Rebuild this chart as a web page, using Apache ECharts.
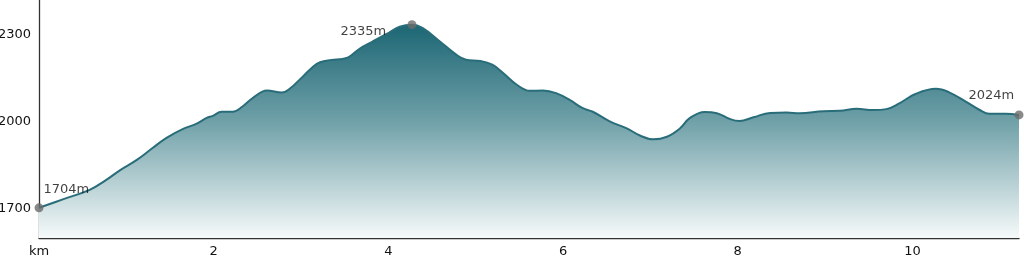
<!DOCTYPE html>
<html>
<head>
<meta charset="utf-8">
<style>
  html, body { margin: 0; padding: 0; background: #ffffff; }
  #chart { width: 1024px; height: 257px; }
</style>
<script src="https://cdn.jsdelivr.net/npm/echarts@6/dist/echarts.min.js"></script>
</head>
<body>
<div id="chart"></div>
<script>
// Distance along the route (km)
const distanceKm = [
  0, 0.28, 0.58, 0.77, 0.93, 1.12, 1.30, 1.46, 1.65, 1.80,
  1.92, 1.99, 2.09, 2.22, 2.33, 2.45, 2.61, 2.78, 2.87, 3.02,
  3.18, 3.29, 3.44, 3.54, 3.67, 3.82, 3.98, 4.13, 4.27, 4.39,
  4.59, 4.78, 4.89, 5.05, 5.19, 5.31, 5.47, 5.62, 5.77, 5.92,
  6.08, 6.22, 6.34, 6.54, 6.73, 6.88, 7.03, 7.19, 7.34, 7.45,
  7.62, 7.76, 7.91, 8.02, 8.18, 8.37, 8.56, 8.71, 8.98, 9.17,
  9.36, 9.55, 9.70, 9.85, 10.04, 10.27, 10.42, 10.61, 10.77, 10.88,
  11.07, 11.22
];
// Elevation (m)
const elevationM = [
  1704, 1734, 1766, 1800, 1834, 1869, 1910, 1945, 1976, 1993,
  2014, 2021, 2035, 2035, 2053, 2083, 2108, 2101, 2114, 2156,
  2200, 2211, 2216, 2222, 2252, 2277, 2303, 2328, 2335, 2324,
  2277, 2231, 2214, 2210, 2197, 2169, 2128, 2107, 2108, 2099,
  2075, 2048, 2035, 2001, 1978, 1953, 1940, 1949, 1978, 2013,
  2034, 2030, 2010, 2003, 2016, 2031, 2032, 2030, 2037, 2038,
  2045, 2041, 2044, 2064, 2097, 2114, 2102, 2070, 2041, 2028,
  2028, 2024
];
// Labelled points: start, summit, finish (indices into the arrays)
const markedIndex = [0, 28, 71];
const markedLabelPos = ['start', 'peak', 'end'];
// Axis tick labels
const yTickLabels = [1700, 2000, 2300];
const xTickLabels = [0, 2, 4, 6, 8, 10];
const xZeroLabel = 'km';

const chart = echarts.init(document.getElementById('chart'), null, { renderer: 'canvas' });

const lineData = distanceKm.map((d, i) => [d, elevationM[i]]);
const labelCfg = {
  start: { position: [9, -20] },
  peak: { position: [-67, 5] },
  end: { position: [-46, -21] }
};
const markData = markedIndex.map((idx, k) => ({
  value: [distanceKm[idx], elevationM[idx]],
  label: {
    show: true,
    formatter: elevationM[idx] + 'm',
    position: labelCfg[markedLabelPos[k]].position,
    color: '#111',
    fontSize: 13,
    fontFamily: 'DejaVu Sans'
  }
}));

chart.setOption({
  animation: false,
  backgroundColor: '#ffffff',
  grid: { left: 39, right: 5, top: 0, bottom: 19, containLabel: false, outerBoundsMode: 'none' },
  xAxis: {
    type: 'value',
    min: 0,
    max: distanceKm[distanceKm.length - 1],
    interval: 2,
    axisLine: { show: true, onZero: false, lineStyle: { color: '#333', width: 1.3 } },
    axisTick: { show: false },
    splitLine: { show: false },
    axisLabel: {
      color: '#111',
      fontSize: 13,
      fontFamily: 'DejaVu Sans',
      margin: 7,
      showMaxLabel: false,
      formatter: v => (xTickLabels.indexOf(v) >= 0 ? (v === 0 ? xZeroLabel : String(v)) : '')
    }
  },
  yAxis: {
    type: 'value',
    min: 1600,
    max: 2420,
    interval: 100,
    axisLine: { show: true, lineStyle: { color: '#333', width: 1.3 } },
    axisTick: { show: false },
    splitLine: { show: false },
    axisLabel: {
      color: '#111',
      fontSize: 13,
      fontFamily: 'DejaVu Sans',
      margin: 8,
      showMaxLabel: false,
      formatter: v => (yTickLabels.indexOf(v) >= 0 ? String(v) : '')
    }
  },
  series: [
    {
      type: 'line',
      data: lineData,
      smooth: 0.4,
      symbol: 'none',
      lineStyle: { color: '#2a6d7a', width: 2 },
      areaStyle: {
        origin: 'start',
        opacity: 1,
        color: new echarts.graphic.LinearGradient(0, 0, 0, 1, [
          { offset: 0, color: 'rgb(28,102,116)' },
          { offset: 0.45, color: 'rgb(111,160,168)' },
          { offset: 1, color: 'rgb(246,250,250)' }
        ])
      },
      z: 2
    },
    {
      type: 'scatter',
      data: markData,
      symbol: 'circle',
      symbolSize: 9,
      itemStyle: { color: '#6b6b6b' },
      z: 5
    }
  ]
});
</script>
</body>
</html>
